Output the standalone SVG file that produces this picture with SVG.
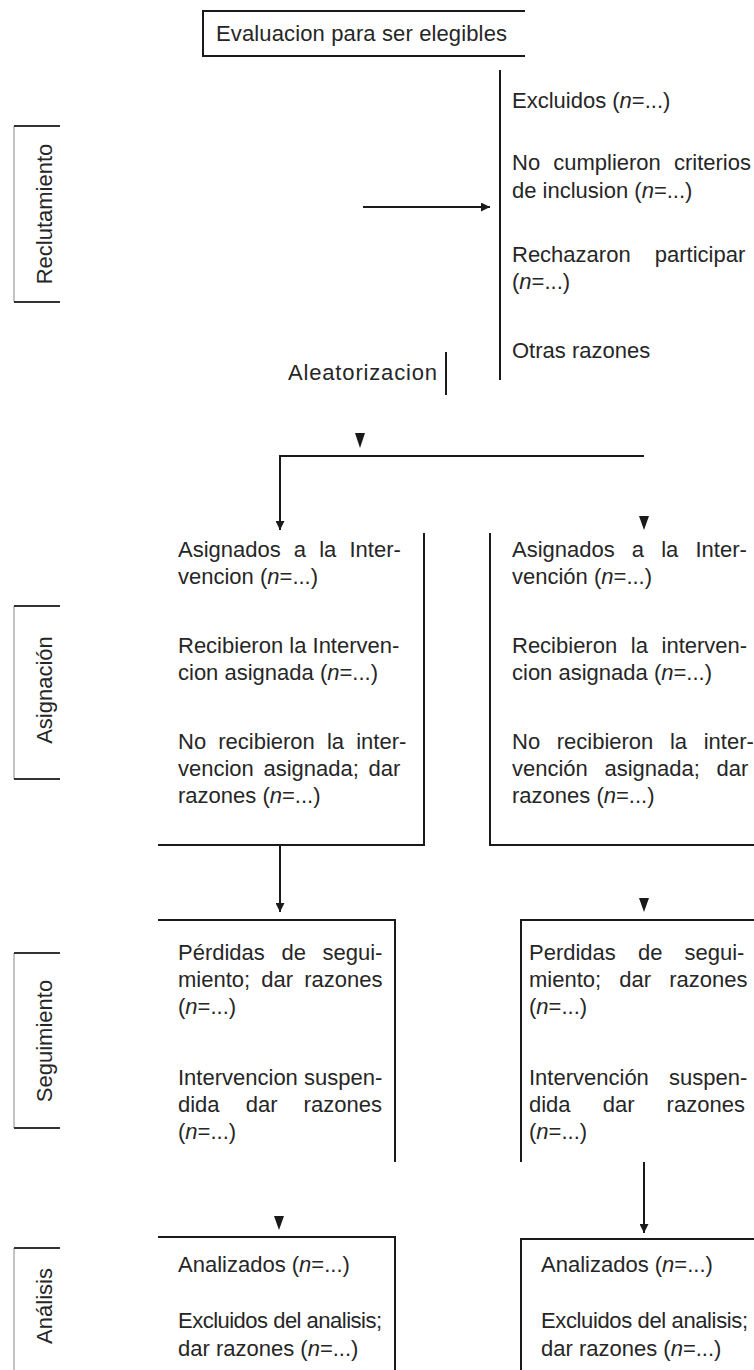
<svg xmlns="http://www.w3.org/2000/svg" width="754" height="1370" viewBox="0 0 754 1370">
<defs>
<style>
.t{font-family:"Liberation Sans",Arial,sans-serif;font-size:22px;fill:#262626}
.ln{fill:none;stroke:#1a1a1a;stroke-width:2}
.bv{fill:none;stroke:#888;stroke-width:1}
.bh{fill:none;stroke:#333;stroke-width:2}
.ah{fill:#1a1a1a}
.i{font-style:italic}
</style>
<marker id="arr" viewBox="0 0 10 10" refX="10" refY="5" markerWidth="13" markerHeight="9" markerUnits="userSpaceOnUse" orient="auto">
<path d="M0,0 L10,5 L0,10 z" fill="#1a1a1a"/>
</marker>
</defs>
<rect width="754" height="1370" fill="#fff"/>

<g id="label-reclutamiento">
<path class="bv" d="M14,126 V302"/>
<path class="bh" d="M14,126 H60 M14,302 H60"/>
<text class="t" transform="translate(52,214) rotate(-90)" text-anchor="middle">Reclutamiento</text>
</g>
<g id="label-asignacion">
<path class="bv" d="M14,606 V779"/>
<path class="bh" d="M14,606 H60 M14,779 H60"/>
<text class="t" transform="translate(52,690) rotate(-90)" text-anchor="middle">Asignación</text>
</g>
<g id="label-seguimiento">
<path class="bv" d="M14,953 V1128"/>
<path class="bh" d="M14,953 H60 M14,1128 H60"/>
<text class="t" transform="translate(52,1041) rotate(-90)" text-anchor="middle">Seguimiento</text>
</g>
<g id="label-analisis">
<path class="bv" d="M14,1248 V1370"/>
<path class="bh" d="M14,1248 H60"/>
<text class="t" transform="translate(52,1306) rotate(-90)" text-anchor="middle">Análisis</text>
</g>

<g id="node-evaluacion">
<path class="ln" d="M525,11 H203 V56 H525"/>
<text class="t" x="216" y="41" textLength="291">Evaluacion para ser elegibles</text>
</g>

<g id="node-excluidos">
<path class="ln" d="M500,70 V380"/>
<text class="t" x="512" y="108">Excluidos (<tspan class="i">n</tspan>=...)</text>
<text class="t" x="512" y="170" word-spacing="7">No cumplieron criterios</text>
<text class="t" x="512" y="198">de inclusion (<tspan class="i">n</tspan>=...)</text>
<text class="t" x="512" y="262" word-spacing="18">Rechazaron participar</text>
<text class="t" x="512" y="289">(<tspan class="i">n</tspan>=...)</text>
<text class="t" x="512" y="358">Otras razones</text>
</g>

<g id="node-aleatorizacion">
<text class="t" x="288" y="380" textLength="149">Aleatorizacion</text>
<path class="ln" d="M446,352 V395"/>
</g>

<g id="node-asignados-1">
<path class="ln" d="M424,533 V845 H158"/>
<text class="t" x="178" y="557" word-spacing="7">Asignados a la Inter-</text>
<text class="t" x="178" y="584">vencion (<tspan class="i">n</tspan>=...)</text>
<text class="t" x="178" y="653">Recibieron la Interven-</text>
<text class="t" x="178" y="680">cion asignada (<tspan class="i">n</tspan>=...)</text>
<text class="t" x="178" y="749" word-spacing="6">No recibieron la inter-</text>
<text class="t" x="178" y="776" word-spacing="3.5">vencion asignada; dar</text>
<text class="t" x="178" y="803">razones (<tspan class="i">n</tspan>=...)</text>
</g>

<g id="node-asignados-2">
<path class="ln" d="M490,533 V845 H754"/>
<text class="t" x="512" y="557" word-spacing="11">Asignados a la Inter-</text>
<text class="t" x="512" y="584">vención (<tspan class="i">n</tspan>=...)</text>
<text class="t" x="512" y="653" word-spacing="7.5">Recibieron la interven-</text>
<text class="t" x="512" y="680">cion asignada (<tspan class="i">n</tspan>=...)</text>
<text class="t" x="512" y="749" word-spacing="10.5">No recibieron la inter-</text>
<text class="t" x="512" y="776" word-spacing="10.5">vención asignada; dar</text>
<text class="t" x="512" y="803">razones (<tspan class="i">n</tspan>=...)</text>
</g>

<g id="node-seguimiento-1">
<path class="ln" d="M158,920 H395 V1162"/>
<text class="t" x="178" y="960" word-spacing="10.5">Pérdidas de segui-</text>
<text class="t" x="178" y="987" word-spacing="5">miento; dar razones</text>
<text class="t" x="178" y="1014">(<tspan class="i">n</tspan>=...)</text>
<text class="t" x="178" y="1085">Intervencion suspen-</text>
<text class="t" x="178" y="1112" word-spacing="20">dida dar razones</text>
<text class="t" x="178" y="1139">(<tspan class="i">n</tspan>=...)</text>
</g>

<g id="node-seguimiento-2">
<path class="ln" d="M754,920 H521 V1162"/>
<text class="t" x="529" y="960" word-spacing="16">Perdidas de segui-</text>
<text class="t" x="529" y="987" word-spacing="12">miento; dar razones</text>
<text class="t" x="529" y="1014">(<tspan class="i">n</tspan>=...)</text>
<text class="t" x="529" y="1085" word-spacing="14">Intervención suspen-</text>
<text class="t" x="529" y="1112" word-spacing="26">dida dar razones</text>
<text class="t" x="529" y="1139">(<tspan class="i">n</tspan>=...)</text>
</g>

<g id="node-analisis-1">
<path class="ln" d="M158,1237 H395 V1370"/>
<text class="t" x="178" y="1272">Analizados (<tspan class="i">n</tspan>=...)</text>
<text class="t" x="178" y="1328" textLength="204">Excluidos del analisis;</text>
<text class="t" x="178" y="1356">dar razones (<tspan class="i">n</tspan>=...)</text>
</g>

<g id="node-analisis-2">
<path class="ln" d="M754,1239 H521 V1370"/>
<text class="t" x="541" y="1272">Analizados (<tspan class="i">n</tspan>=...)</text>
<text class="t" x="541" y="1328" textLength="207">Excluidos del analisis;</text>
<text class="t" x="541" y="1356">dar razones (<tspan class="i">n</tspan>=...)</text>
</g>

<g id="connectors">
<path class="ln" d="M363,207 H490" marker-end="url(#arr)"/>
<polygon class="ah" points="355,433 365,433 360,448"/>
<path class="ln" d="M644,456 H280 V530" marker-end="url(#arr)"/>
<polygon class="ah" points="639,516 649,516 644,530"/>
<path class="ln" d="M280,845 V912" marker-end="url(#arr)"/>
<polygon class="ah" points="639,898 649,898 644,912"/>
<polygon class="ah" points="274,1216 284,1216 279,1230"/>
<path class="ln" d="M644,1162 V1233" marker-end="url(#arr)"/>
</g>
</svg>
